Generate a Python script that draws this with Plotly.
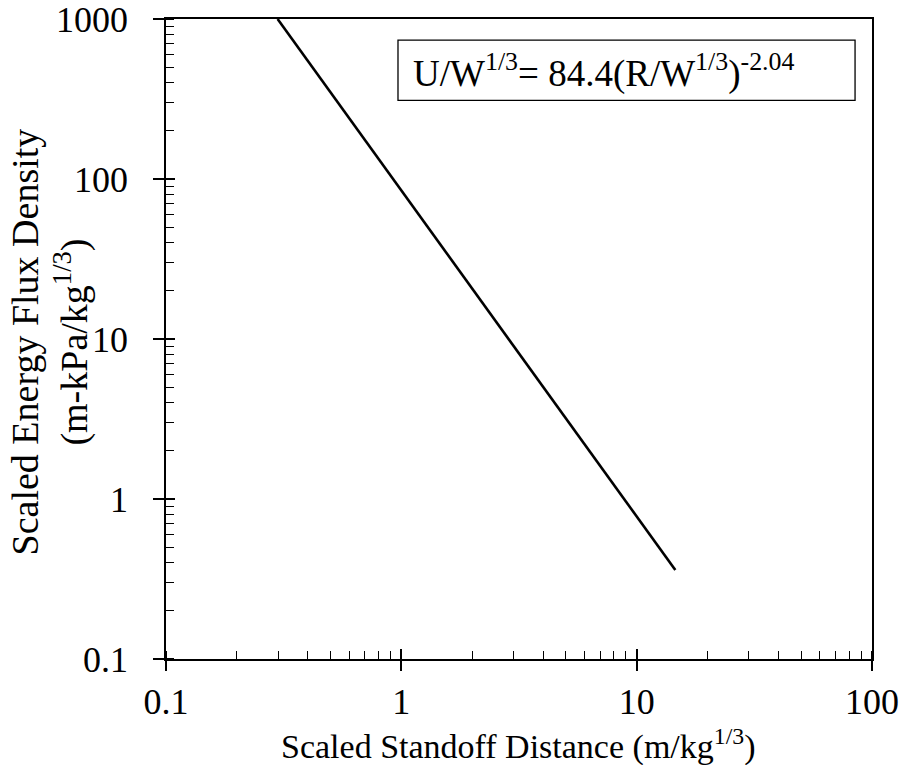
import plotly.graph_objects as go

# Data
distance = [0.298, 1.0, 14.6]          # Scaled standoff distance (m/kg^1/3)
energy_flux = [1000.0, 84.4, 0.36]     # Scaled energy flux density (m-kPa/kg^1/3)

x_tickvals = [0.1, 1, 10, 100]
x_ticktext = ["0.1", "1", "10", "100"]
y_tickvals = [0.1, 1, 10, 100, 1000]
y_ticktext = ["0.1", "1", "10", "100", "1000"]

equation_text = "U/W<sup>1/3</sup>= 84.4(R/W<sup>1/3</sup>)<sup>-2.04</sup>"
x_title = "Scaled Standoff Distance (m/kg<sup>1/3</sup>)"
y_title = "Scaled Energy Flux Density<br>(m-kPa/kg<sup>1/3</sup>)"

FONT = "Liberation Serif, Times New Roman, serif"
FS_TICK = 36
FS_XT = 34
FS_YT = 38

fig = go.Figure()
fig.add_trace(go.Scatter(x=distance, y=energy_flux, mode="lines",
                         line=dict(color="black", width=2.6),
                         hoverinfo="skip", showlegend=False))
# invisible copy to register the overlay axes (for crossing major ticks)
fig.add_trace(go.Scatter(x=distance, y=energy_flux, mode="lines",
                         line=dict(color="rgba(0,0,0,0)", width=0),
                         xaxis="x2", yaxis="y2",
                         hoverinfo="skip", showlegend=False))

xr = [-1, 2.0001]
yr = [-1.0001, 3.0001]

common = dict(showgrid=False, zeroline=False, color="black", automargin=False)

fig.update_layout(
    width=906, height=765,
    margin=dict(l=166, r=34, t=19, b=106),
    paper_bgcolor="white", plot_bgcolor="white",
    font=dict(family=FONT, size=FS_TICK, color="black"),
    xaxis=dict(type="log", range=xr, tickvals=x_tickvals, ticktext=x_ticktext,
               ticks="outside", ticklen=10, tickwidth=1.5, tickcolor="black",
               showline=True, linewidth=1.5, linecolor="black", mirror=True,
               minor=dict(ticks="inside", ticklen=8, tickwidth=1.2, tickcolor="black",
                          dtick="D1", showgrid=False),
               tickfont=dict(family=FONT, size=FS_TICK, color="black"),
               ticklabeloverflow="allow",
               **common),
    yaxis=dict(type="log", range=yr, tickvals=y_tickvals, ticktext=y_ticktext,
               ticks="outside", ticklen=11, tickwidth=1.5, tickcolor="black",
               showline=True, linewidth=1.5, linecolor="black", mirror=True,
               minor=dict(ticks="inside", ticklen=8, tickwidth=1.2, tickcolor="black",
                          dtick="D1", showgrid=False),
               tickfont=dict(family=FONT, size=FS_TICK, color="black"),
               ticklabelstandoff=18, ticklabeloverflow="allow",
               **common),
    xaxis2=dict(type="log", range=xr, overlaying="x", anchor="y", side="bottom",
                tickvals=x_tickvals, ticks="inside", ticklen=10, tickwidth=1.5,
                tickcolor="black", showticklabels=False, showline=False, **common),
    yaxis2=dict(type="log", range=yr, overlaying="y", anchor="x", side="left",
                tickvals=y_tickvals, ticks="inside", ticklen=9, tickwidth=1.5,
                tickcolor="black", showticklabels=False, showline=False, **common),
)

# axis titles
fig.add_annotation(text=x_title, xref="paper", yref="paper",
                   x=0.4986, y=-0.134, xanchor="center", yanchor="middle",
                   showarrow=False, font=dict(family=FONT, size=FS_XT, color="black"))
fig.add_annotation(text=y_title, xref="paper", yref="paper", textangle=-90,
                   x=-0.164, y=0.495, xanchor="center", yanchor="middle",
                   showarrow=False, font=dict(family=FONT, size=FS_YT, color="black"))

fig.add_shape(type="rect", xref="paper", yref="paper",
              x0=0.3286, x1=0.976, y0=0.873, y1=0.967,
              line=dict(color="black", width=1.3), fillcolor="white", layer="above")
fig.add_annotation(text=equation_text, xref="paper", yref="paper",
                   x=0.6197, y=0.918, xanchor="center", yanchor="middle",
                   showarrow=False, font=dict(family=FONT, size=37, color="black"))

# remove the default 8px page margin so the figure fills the window exactly
fig.write_html("out.html", config={"displayModeBar": False},
               post_script="document.body.style.margin='0px';")
